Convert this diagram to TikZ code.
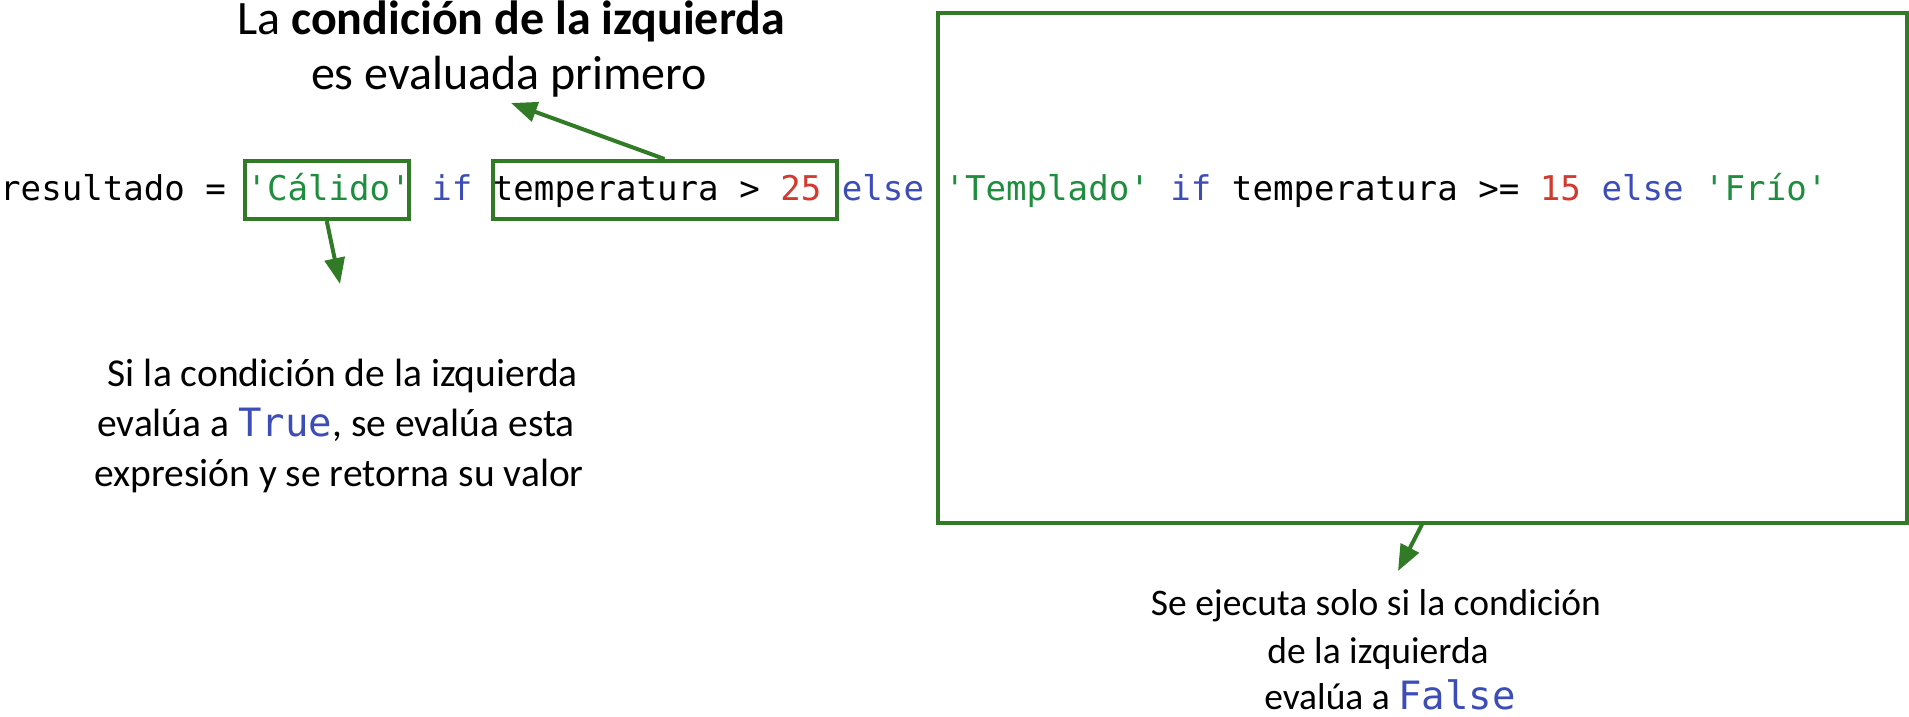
\documentclass[tikz,border=0pt]{standalone}
\usepackage{fontspec}
\setmainfont{Carlito}
\setmonofont{DejaVu Sans Mono}
\usetikzlibrary{arrows.meta}
\definecolor{boxgreen}{HTML}{317A26}
\definecolor{cstr}{HTML}{1E8E3E}
\definecolor{ckw}{HTML}{3C4DB8}
\definecolor{cnum}{HTML}{D23A2F}
\tikzset{
  hlbox/.style={draw=boxgreen, line width=4pt, inner sep=0pt, rectangle},
  codetext/.style={inner sep=0pt, font=\ttfamily\fontsize{34.1}{40}\selectfont},
  toptext/.style={inner sep=0pt, font=\fontsize{48}{54}\selectfont},
  notetext/.style={inner sep=0pt, font=\fontsize{39.5}{50}\selectfont},
  notetextR/.style={inner sep=0pt, font=\fontsize{37.5}{48}\selectfont},
  pointer/.style={draw=boxgreen, line width=4pt, -{Triangle[length=26pt,width=20pt]}},
}
\newcommand{\kw}[1]{{\color{ckw}#1}}
\newcommand{\str}[1]{{\color{cstr}#1}}
\newcommand{\num}[1]{{\color{cnum}#1}}
\newcommand{\monob}[1]{{\color{ckw}\ttfamily\fontsize{39}{40}\selectfont #1}}
\begin{document}
\begin{tikzpicture}[x=1pt,y=-1pt]
\useasboundingbox (0,0) rectangle (1909,717);
% code line
\node[codetext, anchor=base west] (code) at (0,200)
  {resultado = \str{'Cálido'} \kw{if} temperatura > \num{25} \kw{else} \str{'Templado'} \kw{if} temperatura >= \num{15} \kw{else} \str{'Frío'}};
% highlight boxes
\node[hlbox, minimum width=164.5pt, minimum height=58pt] (cal) at (326.75,190) {};
\node[hlbox, minimum width=344pt, minimum height=58pt] (cond) at (664.5,190) {};
\node[hlbox, minimum width=969pt, minimum height=509pt] (rest) at (1422,268) {};
% top annotation
\node[toptext, anchor=base] (t1) at (511,35) {La \textbf{condición de la izquierda}};
\node[toptext, anchor=base] (t2) at (509,89) {es evaluada primero};
% left annotation
\node[notetext, anchor=base] (l1) at (343,386) {Si la condición de la izquierda};
\node[notetext, anchor=base] (l2) at (336,436) {evalúa a \monob{True}, se evalúa esta};
\node[notetext, anchor=base] (l3) at (339,486) {expresión y se retorna su valor};
% right annotation
\node[notetextR, anchor=base] (r1) at (1376,615) {Se ejecuta solo si la condición};
\node[notetextR, anchor=base] (r2) at (1378,663) {de la izquierda};
\node[notetextR, anchor=base] (r3) at (1390,709) {evalúa a \monob{False}};
% arrow tips
\coordinate (tipT) at (511,103);
\coordinate (tipL) at (340,284);
\coordinate (tipR) at (1398,571);
\draw[pointer] (cond.north) -- (tipT);
\draw[pointer] (cal.south) -- (tipL);
\draw[pointer] (rest.south) -- (tipR);
\end{tikzpicture}
\end{document}
